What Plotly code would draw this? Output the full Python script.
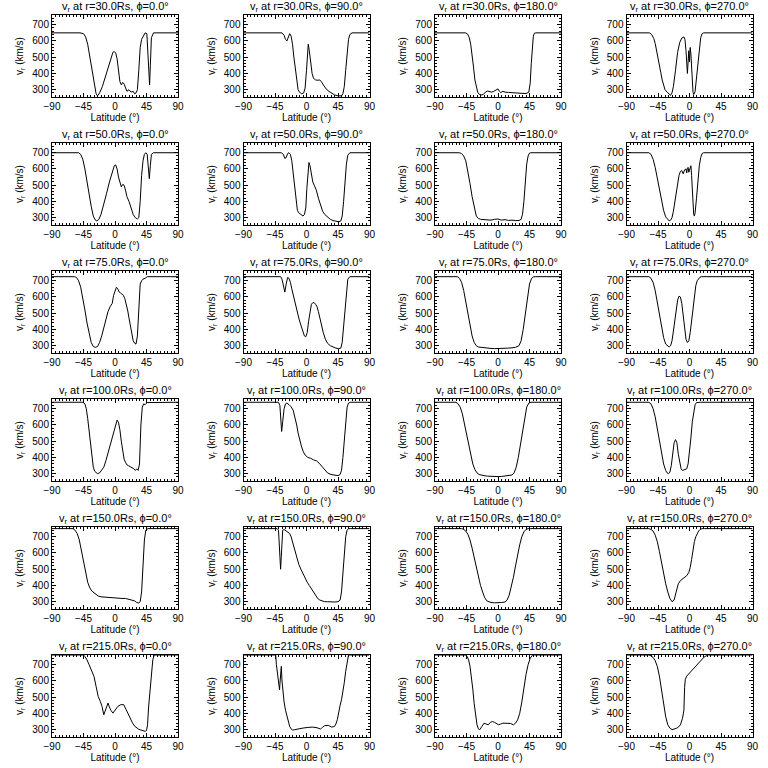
import plotly.graph_objects as go

radii = [30.0, 50.0, 75.0, 100.0, 150.0, 215.0]
phis = [0.0, 90.0, 180.0, 270.0]
x_ticks = [-90, -45, 0, 45, 90]
y_ticks = [300, 400, 500, 600, 700]
x_range = [-90, 90]
y_range = [255, 760]

# ---- r = 30 Rs ----
lat_r30_p0 = [-90, -50, -45, -42, -39, -36, -33, -30, -27, -25, -22, -18, -14, -10, -6, -3, -1, 1, 3, 5, 7, 9, 11, 13, 15, 17, 20, 23, 26, 28, 30, 32, 34, 36, 38, 40, 43, 45.5, 47, 48, 49.4, 50.5, 52, 55, 90]
v_r30_p0 = [650, 650, 645, 625, 580, 500, 410, 330, 275, 262, 280, 320, 380, 440, 500, 530, 535, 525, 490, 420, 350, 330, 345, 335, 310, 290, 300, 285, 290, 275, 280, 300, 420, 560, 610, 630, 650, 645, 500, 400, 330, 450, 620, 650, 650]
lat_r30_p90 = [-90, -35, -32, -30, -28, -26, -24, -22, -20, -18, -16, -14, -12, -10, -7, -4, -2, 0, 1, 2.5, 4, 6, 8, 10, 13, 16, 19, 21, 24, 28, 32, 36, 40, 45, 50, 52, 54, 56, 58, 60, 62, 65, 90]
v_r30_p90 = [650, 650, 635, 610, 600, 625, 645, 630, 580, 500, 420, 350, 300, 285, 275, 280, 310, 420, 520, 580, 540, 470, 400, 370, 360, 358, 360, 350, 330, 305, 290, 280, 268, 262, 262, 275, 320, 420, 530, 610, 640, 650, 650]
lat_r30_p180 = [-90, -46, -43, -41, -39, -37, -35, -33, -31, -29, -27, -24, -21, -18, -15, -12, -9, -6, -3, 0, 2, 4, 7, 10, 15, 20, 25, 30, 35, 40, 44, 46, 47.5, 49, 50.5, 52, 54, 90]
v_r30_p180 = [650, 650, 640, 620, 580, 520, 440, 360, 310, 285, 272, 268, 270, 285, 292, 288, 285, 290, 300, 305, 290, 282, 290, 285, 283, 282, 280, 278, 276, 276, 285, 340, 460, 580, 630, 648, 650, 650]
lat_r30_p270 = [-90, -57, -54, -51, -49, -47, -45, -43, -41, -39, -37, -35, -32, -29, -27, -25, -23, -20, -17, -14, -11, -8, -6.5, -5, -4, -3, -2, -1, 0, 1, 2, 3, 4, 5, 6, 7, 8, 10, 12, 14, 16, 18, 20, 90]
v_r30_p270 = [650, 650, 640, 615, 585, 545, 490, 445, 405, 360, 320, 300, 285, 275, 265, 280, 320, 420, 530, 590, 618, 625, 610, 540, 430, 400, 470, 540, 470, 560, 520, 420, 330, 285, 270, 275, 290, 380, 470, 560, 620, 645, 650, 650]

# ---- r = 50 Rs ----
lat_r50_p0 = [-90, -52, -49, -46, -43, -40, -37, -34, -31, -28, -26, -23, -20, -16, -12, -8, -4, -1, 1, 3, 5, 7, 9, 11, 13, 15, 17, 20, 23, 26, 29, 32, 34, 36, 38, 40, 42, 44, 46, 47.5, 49, 50.5, 52, 55, 90]
v_r50_p0 = [700, 700, 690, 660, 600, 520, 440, 370, 310, 285, 280, 290, 320, 380, 450, 520, 580, 620, 625, 600, 550, 510, 490, 505, 500, 470, 430, 400, 360, 320, 300, 292, 300, 400, 560, 650, 690, 700, 690, 600, 540, 620, 690, 700, 700]
lat_r50_p90 = [-90, -36, -33, -31, -29, -27, -25, -23, -21, -19, -17, -15, -13, -11, -9, -7, -5, -3, -1, 0.5, 2, 3.5, 5, 7, 9, 11, 14, 17, 20, 23, 26, 30, 34, 38, 42, 46, 49, 51, 53, 55, 57, 59, 62, 90]
v_r50_p90 = [700, 700, 690, 665, 670, 695, 700, 690, 650, 570, 470, 390, 345, 330, 325, 320, 310, 320, 360, 480, 600, 640, 620, 560, 520, 500, 470, 420, 380, 340, 320, 305, 290, 282, 278, 275, 280, 310, 400, 520, 630, 685, 700, 700]
lat_r50_p180 = [-90, -55, -52, -49, -46, -43, -40, -37, -34, -31, -28, -25, -20, -15, -10, -5, 0, 5, 10, 15, 20, 25, 30, 33, 35, 37, 39, 41, 43, 45, 47, 90]
v_r50_p180 = [700, 700, 695, 680, 650, 590, 510, 430, 360, 310, 295, 290, 288, 285, 285, 290, 292, 285, 288, 283, 285, 282, 283, 290, 320, 400, 520, 630, 680, 698, 700, 700]
lat_r50_p270 = [-90, -58, -55, -52, -49, -46, -43, -40, -37, -34, -31, -29, -27, -25, -23, -21, -19, -17, -15, -13, -11, -9, -7, -5, -4, -3, -2, -1, 0, 1, 2, 3, 4, 5, 6, 7, 8, 10, 12, 14, 16, 18, 20, 90]
v_r50_p270 = [700, 700, 690, 660, 610, 545, 470, 400, 345, 305, 285, 280, 285, 300, 340, 400, 460, 520, 560, 585, 590, 570, 595, 600, 575, 605, 610, 580, 600, 615, 620, 560, 470, 380, 320, 310, 330, 420, 530, 620, 670, 695, 700, 700]

# ---- r = 75 Rs ----
lat_r75_p0 = [-90, -58, -55, -52, -49, -46, -43, -40, -37, -34, -31, -28, -25, -22, -19, -16, -13, -10, -7, -4, -2, 0, 2, 4, 6, 8, 10, 12, 14, 16, 18, 20, 22, 24, 26, 28, 30, 32, 34, 36, 38, 40, 43, 46, 90]
v_r75_p0 = [725, 725, 720, 700, 660, 600, 520, 440, 370, 320, 295, 290, 295, 320, 360, 410, 460, 510, 540, 560, 610, 640, 660, 650, 630, 625, 620, 610, 590, 560, 520, 470, 420, 370, 330, 315, 310, 360, 560, 680, 700, 710, 715, 725, 725]
lat_r75_p90 = [-90, -37, -35, -33, -31, -29, -27, -25, -23, -21, -19, -17, -15, -13, -11, -9, -7, -5, -3, -1, 1, 3, 5, 7, 9, 11, 13, 15, 17, 19, 21, 24, 27, 30, 34, 38, 42, 46, 49, 51, 53, 55, 57, 59, 62, 90]
v_r75_p90 = [725, 725, 710, 660, 630, 680, 720, 715, 690, 650, 610, 570, 530, 500, 470, 440, 410, 380, 360, 355, 380, 450, 520, 555, 565, 565, 555, 540, 510, 470, 430, 380, 340, 315, 300, 290, 285, 282, 285, 320, 420, 560, 660, 710, 725, 725]
lat_r75_p180 = [-90, -58, -55, -52, -49, -46, -43, -40, -37, -34, -31, -28, -25, -20, -15, -10, -5, 0, 5, 10, 15, 20, 25, 30, 33, 36, 39, 42, 45, 48, 51, 54, 90]
v_r75_p180 = [725, 725, 715, 690, 640, 570, 490, 420, 360, 320, 300, 292, 290, 288, 285, 283, 282, 282, 282, 283, 285, 287, 290, 300, 330, 400, 500, 610, 680, 715, 725, 725, 725]
lat_r75_p270 = [-90, -58, -55, -52, -49, -46, -43, -40, -37, -34, -31, -29, -27, -25, -23, -21, -19, -17, -15, -13, -11, -9, -7, -5, -3, -1, 1, 3, 5, 7, 9, 11, 13, 15, 17, 20, 90]
v_r75_p270 = [725, 725, 715, 690, 640, 570, 490, 410, 350, 310, 295, 292, 300, 330, 390, 460, 530, 580, 605, 600, 560, 480, 400, 340, 320, 330, 380, 460, 550, 620, 670, 700, 715, 722, 725, 725, 725]

# ---- r = 100 Rs ----
lat_r100_p0 = [-90, -46, -43, -41, -39, -37, -35, -33, -31, -29, -27, -25, -22, -19, -16, -13, -10, -7, -4, -1, 1, 3, 5, 7, 9, 11, 13, 15, 17, 19, 21, 23, 25, 27, 29, 31, 33, 35, 37, 39, 41, 43, 46, 90]
v_r100_p0 = [740, 740, 730, 700, 640, 560, 470, 390, 340, 315, 305, 300, 305, 320, 340, 380, 430, 480, 530, 580, 610, 630, 615, 570, 500, 430, 390, 370, 355, 350, 345, 345, 340, 330, 320, 330, 320, 360, 600, 710, 730, 725, 738, 740]
lat_r100_p90 = [-90, -40, -38, -36.5, -35.5, -34, -32, -30, -28, -25, -22, -19, -16.5, -14, -12, -9.5, -7, -4.5, -2, 2, 6, 10, 14, 18, 22, 26, 30, 35, 40, 45, 48, 50, 52, 54, 56, 58, 60, 63, 90]
v_r100_p90 = [740, 740, 720, 640, 560, 620, 700, 730, 735, 725, 712, 690, 650, 600, 550, 500, 465, 435, 415, 400, 395, 385, 380, 365, 345, 325, 305, 295, 290, 288, 295, 320, 400, 520, 640, 710, 735, 740, 740]
lat_r100_p180 = [-90, -60, -57, -54, -51, -48, -45, -42, -39, -36, -33, -30, -27, -24, -20, -15, -10, -5, 0, 5, 10, 15, 20, 23, 26, 29, 32, 35, 38, 41, 44, 47, 90]
v_r100_p180 = [740, 740, 730, 710, 670, 610, 540, 470, 410, 360, 325, 305, 295, 290, 288, 285, 283, 282, 282, 283, 285, 287, 292, 305, 340, 400, 480, 570, 650, 710, 735, 740, 740]
lat_r100_p270 = [-90, -58, -55, -52, -49, -46, -43, -40, -37, -34, -32, -30, -28, -26, -24, -22, -20, -18, -16, -14, -12, -10, -8, -6, -4, -2, 0, 2, 4, 6, 8, 10, 12, 14, 16, 90]
v_r100_p270 = [740, 740, 730, 700, 650, 580, 500, 420, 360, 320, 305, 300, 310, 350, 420, 490, 510, 490, 420, 360, 330, 320, 322, 325, 330, 360, 430, 520, 620, 690, 725, 738, 740, 740, 740, 740]

# ---- r = 150 Rs ----
lat_r150_p0 = [-90, -60, -57, -54, -51, -48, -45, -42, -39, -36, -33, -30, -27, -24, -20, -15, -10, -5, 0, 5, 10, 15, 20, 25, 28, 31, 34, 36, 38, 40, 42, 44, 47, 90]
v_r150_p0 = [750, 750, 740, 720, 680, 620, 550, 480, 420, 385, 365, 355, 345, 335, 330, 328, 325, 325, 325, 322, 320, 320, 315, 310, 305, 295, 292, 300, 360, 520, 680, 740, 750, 750]
lat_r150_p90 = [-90, -42, -40, -39, -38, -37, -36, -35, -34, -32, -30, -28, -26, -24, -22, -20, -17, -14, -11, -8, -5, -2, 1, 4, 7, 10, 13, 16, 19, 22, 26, 30, 35, 40, 45, 48, 50, 52, 54, 56, 58, 60, 63, 90]
v_r150_p90 = [750, 750, 740, 680, 560, 500, 580, 700, 740, 745, 740, 735, 730, 720, 700, 670, 620, 570, 530, 500, 470, 440, 420, 400, 380, 360, 340, 320, 310, 305, 300, 300, 298, 298, 300, 310, 360, 470, 600, 700, 740, 750, 750, 750]
lat_r150_p180 = [-90, -52, -49, -46, -43, -40, -37, -34, -31, -28, -25, -22, -19, -16, -13, -10, -5, 0, 5, 10, 13, 16, 19, 22, 25, 28, 31, 34, 37, 40, 43, 46, 90]
v_r150_p180 = [750, 750, 745, 735, 715, 680, 630, 570, 510, 450, 400, 360, 325, 305, 298, 295, 293, 293, 295, 298, 310, 340, 390, 450, 520, 590, 650, 700, 730, 745, 750, 750, 750]
lat_r150_p270 = [-90, -58, -55, -52, -49, -46, -43, -40, -37, -34, -31, -28, -25, -22, -19, -16, -13, -10, -7, -4, -1, 1, 3, 5, 7, 9, 11, 13, 15, 18, 21, 90]
v_r150_p270 = [750, 750, 745, 735, 710, 670, 610, 540, 470, 410, 360, 320, 300, 310, 360, 410, 430, 440, 450, 460, 480, 510, 560, 620, 670, 700, 720, 735, 745, 750, 750, 750]

# ---- r = 215 Rs ----
lat_r215_p0 = [-90, -45, -43, -40, -37, -34, -30, -27, -24, -21, -18.5, -16, -14.5, -12.5, -10, -8, -6, -3, 0, 4, 8, 12.5, 16, 19, 22, 25, 28, 31, 34, 37, 40, 43, 45, 46.5, 48, 50, 52, 54, 56, 90]
v_r215_p0 = [760, 760, 750, 730, 700, 670, 628, 566, 505, 474, 443, 392, 410, 433, 464, 440, 420, 402, 423, 443, 454, 454, 423, 395, 370, 342, 322, 310, 302, 298, 294, 290, 295, 330, 440, 540, 640, 730, 760, 760]
lat_r215_p90 = [-90, -44, -43, -42, -41, -40, -39, -38.5, -38, -37, -36, -35, -34, -32, -30, -28, -26, -24, -22, -20, -17, -12, -5, 2, 9, 15, 20, 23, 26, 31, 36, 40, 42, 44, 46, 48, 50, 52, 54, 56, 58, 60, 90]
v_r215_p90 = [760, 760, 700, 670, 620, 587, 560, 546, 580, 640, 690, 600, 546, 470, 420, 380, 345, 320, 305, 298, 300, 306, 310, 314, 316, 312, 304, 315, 325, 327, 316, 320, 335, 361, 420, 450, 484, 530, 590, 660, 720, 760, 760]
lat_r215_p180 = [-90, -46, -44, -42, -40, -38, -36, -34, -32, -30, -28, -26, -23, -20, -17, -14, -11, -8, -5, -2, 1, 4, 7, 10, 14, 18, 22, 25, 28, 31, 34, 37, 40, 43, 46, 49, 52, 90]
v_r215_p180 = [760, 760, 750, 730, 690, 630, 550, 460, 380, 330, 305, 300, 320, 340, 335, 330, 345, 350, 345, 335, 330, 335, 340, 340, 340, 338, 330, 340, 360, 400, 470, 560, 640, 700, 740, 758, 760, 760]
lat_r215_p270 = [-90, -58, -55, -52, -49, -46, -43, -40, -37, -34, -31, -28, -25, -22, -19, -16, -13, -10, -8, -7, -6, -4, -2, 0, 3, 6, 9, 12, 15, 18, 21, 24, 27, 30, 90]
v_r215_p270 = [760, 760, 755, 745, 725, 690, 630, 550, 460, 380, 330, 310, 300, 302, 308, 315, 330, 370, 420, 560, 610, 630, 640, 650, 665, 680, 695, 710, 725, 738, 748, 755, 760, 760, 760]

panels = [
    [(lat_r30_p0, v_r30_p0), (lat_r30_p90, v_r30_p90), (lat_r30_p180, v_r30_p180), (lat_r30_p270, v_r30_p270)],
    [(lat_r50_p0, v_r50_p0), (lat_r50_p90, v_r50_p90), (lat_r50_p180, v_r50_p180), (lat_r50_p270, v_r50_p270)],
    [(lat_r75_p0, v_r75_p0), (lat_r75_p90, v_r75_p90), (lat_r75_p180, v_r75_p180), (lat_r75_p270, v_r75_p270)],
    [(lat_r100_p0, v_r100_p0), (lat_r100_p90, v_r100_p90), (lat_r100_p180, v_r100_p180), (lat_r100_p270, v_r100_p270)],
    [(lat_r150_p0, v_r150_p0), (lat_r150_p90, v_r150_p90), (lat_r150_p180, v_r150_p180), (lat_r150_p270, v_r150_p270)],
    [(lat_r215_p0, v_r215_p0), (lat_r215_p90, v_r215_p90), (lat_r215_p180, v_r215_p180), (lat_r215_p270, v_r215_p270)],
]

W = H = 768
FONT = "Liberation Sans"
fig = go.Figure()
layout = {}
annotations = []
for r in range(6):
    for c in range(4):
        idx = r * 4 + c + 1
        xa = "x" if idx == 1 else f"x{idx}"
        ya = "y" if idx == 1 else f"y{idx}"
        lat, v = panels[r][c]
        fig.add_trace(go.Scatter(x=lat, y=v, mode="lines",
                                 line=dict(color="black", width=1),
                                 xaxis=xa, yaxis=ya, showlegend=False,
                                 hoverinfo="skip"))
        left = 52 + 191.5 * c
        right = left + 126
        top = 15 + 128 * r
        bottom = top + 82
        key = "" if idx == 1 else str(idx)
        layout[f"xaxis{key}"] = dict(
            domain=[left / W, right / W], anchor=ya, range=x_range,
            automargin=False,
            tickvals=x_ticks, ticks="inside", ticklen=4, tickcolor="black",
            mirror="allticks", showline=True, linecolor="black", linewidth=1,
            showgrid=False, zeroline=False,
            minor=dict(ticks="inside", ticklen=2, dtick=5, tickcolor="black"),
            tickfont=dict(family=FONT, size=10, color="black"),
            title=dict(text="Latitude (°)", standoff=1,
                       font=dict(family=FONT, size=10, color="black")))
        layout[f"yaxis{key}"] = dict(
            domain=[1 - bottom / H, 1 - top / H], anchor=xa, range=y_range,
            automargin=False,
            tickvals=y_ticks, ticks="inside", ticklen=4, tickcolor="black",
            mirror="allticks", showline=True, linecolor="black", linewidth=1,
            showgrid=False, zeroline=False,
            minor=dict(ticks="inside", ticklen=2, dtick=20, tickcolor="black"),
            tickfont=dict(family=FONT, size=10, color="black"),
            title=dict(text="v<sub>r</sub> (km/s)", standoff=6,
                       font=dict(family=FONT, size=10, color="black")))
        annotations.append(dict(
            text=f"v<sub>r</sub> at r={radii[r]:.1f}Rs, ϕ={phis[c]:.1f}°",
            xref="paper", yref="paper", x=(left + right) / 2 / W,
            y=1 - top / H, yshift=0, borderpad=0,
            xanchor="center", yanchor="bottom",
            showarrow=False, font=dict(family=FONT, size=11, color="black")))

fig.update_layout(**layout)
fig.update_layout(width=W, height=H, margin=dict(l=0, r=0, t=0, b=0),
                  paper_bgcolor="white", plot_bgcolor="white",
                  annotations=annotations, showlegend=False)
fig.write_html("out.html", config={"displayModeBar": False},
               post_script="document.body.style.margin='0';"
                           "document.body.style.overflow='hidden';")
